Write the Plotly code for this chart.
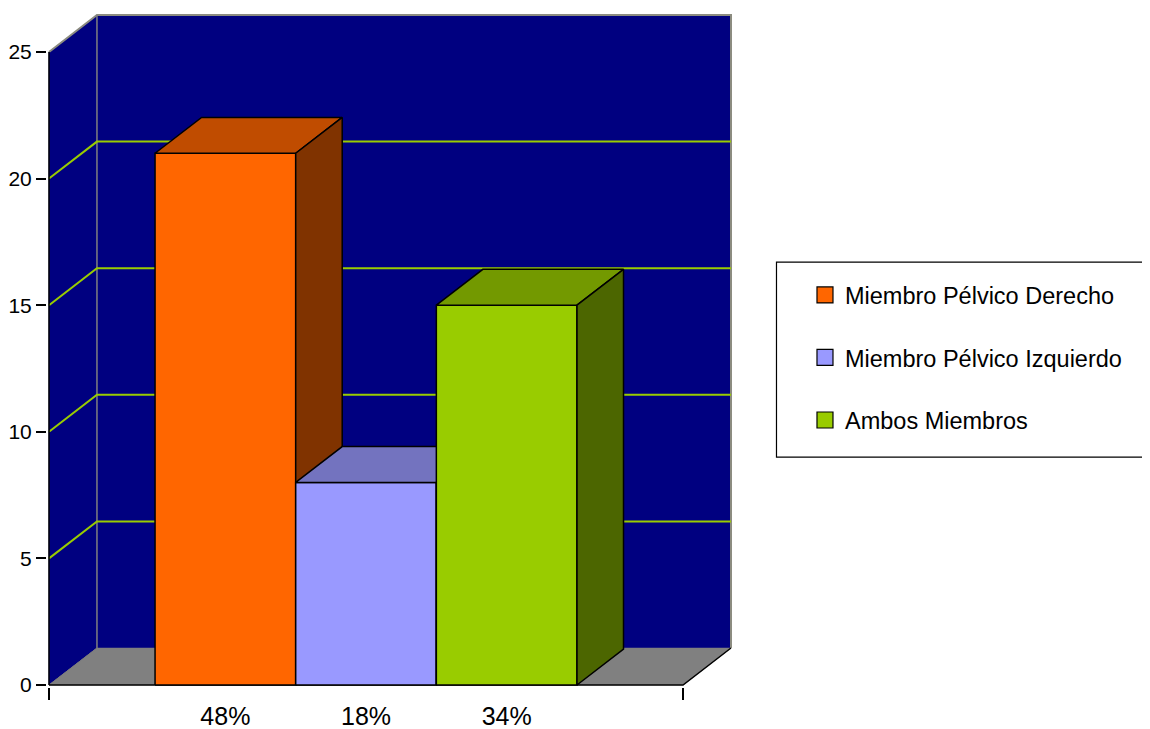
import plotly.graph_objects as go

# ---------------- data ----------------
categories = ["Miembro Pélvico Derecho", "Miembro Pélvico Izquierdo", "Ambos Miembros"]
values = [21, 8, 15]
pct_labels = ["48%", "18%", "34%"]
y_ticks = [0, 5, 10, 15, 20, 25]

front_colors = ["#FF6600", "#9999FF", "#99CC00"]
top_colors = ["#C04C00", "#7373BF", "#739900"]
side_colors = ["#803300", "#4C4C80", "#4C6600"]

# ---------------- geometry ----------------
OFF = 8                          # page body margin
FIG_W, FIG_H = 1150 - OFF, 729 - OFF
SX, SY = 140.65, 25.33           # px per data unit
gap = 0.754                      # space between plane edge and outer bars
x_left = -0.5 - gap
x_right = len(values) - 0.5 + gap
y_top = max(y_ticks)
dx, dy = 0.341, 1.46             # 3D depth offsets of the walls
bd = 0.97                        # bar depth fraction
pad_px = 2

x_range = [x_left - pad_px / SX, x_right + dx + pad_px / SX]
y_range = [-pad_px / SY, y_top + dy + pad_px / SY]
plot_w = (x_range[1] - x_range[0]) * SX
plot_h = (y_range[1] - y_range[0]) * SY
m_l = 49 - pad_px - OFF
m_b = FIG_H - (685 - OFF + pad_px)
m_r = FIG_W - m_l - plot_w
m_t = FIG_H - m_b - plot_h

FONT = "Liberation Sans, Arial, sans-serif"

fig = go.Figure()


def poly(xs, ys, fill=None, line_color="black", lw=1.5):
    xs = list(xs) + [xs[0]]
    ys = list(ys) + [ys[0]]
    fig.add_trace(go.Scatter(
        x=xs, y=ys, mode="lines",
        fill="toself" if fill else None,
        fillcolor=fill,
        line=dict(color=line_color, width=lw),
        showlegend=False, hoverinfo="skip"))


def seg(xs, ys, color, lw):
    fig.add_trace(go.Scatter(x=xs, y=ys, mode="lines",
                             line=dict(color=color, width=lw),
                             showlegend=False, hoverinfo="skip"))


# walls (left + back)
poly([x_left, x_left, x_left + dx, x_right + dx, x_right + dx, x_left + dx],
     [0, y_top, y_top + dy, y_top + dy, dy, dy],
     fill="#000080", line_color="#000080", lw=0.5)
# floor
poly([x_left, x_right, x_right + dx, x_left + dx],
     [0, 0, dy, dy], fill="#808080", line_color="#808080", lw=0.5)

# wall edges (grey)
seg([x_left, x_left + dx, x_right + dx, x_right + dx],
    [y_top, y_top + dy, y_top + dy, dy], "#8C8C80", 2)
seg([x_left + dx, x_left + dx], [dy, y_top + dy], "#808080", 1.5)
seg([x_left, x_left + dx], [0, dy], "#7A7A7A", 1)

# gridlines
for v in y_ticks[1:-1]:
    seg([x_left, x_left + dx, x_right + dx], [v, v + dy, v + dy], "#99CC00", 2)

# axes lines (black)
seg([x_left, x_left], [0, y_top], "black", 1.5)
seg([x_left, x_right, x_right + dx], [0, 0, dy], "black", 1.5)

# bars
for i, v in enumerate(values):
    x0, x1 = i - 0.5, i + 0.5
    ddx, ddy = dx * bd, dy * bd
    poly([x0, x1, x1, x0], [0, 0, v, v], fill=front_colors[i])                       # front
    poly([x0, x1, x1 + ddx, x0 + ddx], [v, v, v + ddy, v + ddy], fill=top_colors[i])  # top
    poly([x1, x1 + ddx, x1 + ddx, x1], [0, ddy, v + ddy, v], fill=side_colors[i])     # side

# legend entries
for i, name in enumerate(categories):
    fig.add_trace(go.Scatter(x=[None], y=[None], name=name, mode="markers",
                             marker=dict(symbol="square", size=17, color=front_colors[i],
                                         line=dict(color="black", width=1.2)),
                             legendgroup="g%d" % i, showlegend=True))


def px_to_paper_x(px):
    return (px - OFF - m_l) / plot_w


def px_to_paper_y(py):
    return (FIG_H - m_b - (py - OFF)) / plot_h


# legend frame
fig.add_shape(type="rect", xref="paper", yref="paper",
              x0=px_to_paper_x(776.5), x1=px_to_paper_x(1170),
              y0=px_to_paper_y(457), y1=px_to_paper_y(262),
              line=dict(color="black", width=1.2), fillcolor="rgba(0,0,0,0)")

fig.update_layout(
    width=FIG_W, height=FIG_H,
    margin=dict(l=m_l, r=m_r, t=m_t, b=m_b, pad=0, autoexpand=False),
    paper_bgcolor="white", plot_bgcolor="white",
    font=dict(family=FONT, color="black"),
    showlegend=True,
    legend=dict(
        x=px_to_paper_x(805), xanchor="left",
        y=px_to_paper_y(273), yanchor="top",
        font=dict(size=23.5, family=FONT, color="black"),
        bgcolor="rgba(0,0,0,0)", borderwidth=0,
        tracegroupgap=29, traceorder="grouped", itemsizing="trace",
    ),
    xaxis=dict(
        range=x_range, showgrid=False, zeroline=False, showline=False,
        automargin=False,
        tickmode="array", tickvals=list(range(len(values))), ticktext=pct_labels,
        ticks="", tickfont=dict(size=25, family=FONT, color="black"),
        ticklabelstandoff=12,
        minor=dict(tickmode="array", tickvals=[x_left, x_right], ticks="outside",
                   ticklen=12, tickwidth=1.5, tickcolor="black"),
        fixedrange=True,
    ),
    yaxis=dict(
        range=y_range, showgrid=False, zeroline=False, showline=False,
        automargin=False,
        tickmode="array", tickvals=y_ticks, ticks="outside", ticklen=10,
        tickwidth=1.5, tickcolor="black", ticklabelstandoff=0,
        tickfont=dict(size=21, family=FONT, color="black"),
        fixedrange=True,
    ),
)

fig.write_html("out.html")
